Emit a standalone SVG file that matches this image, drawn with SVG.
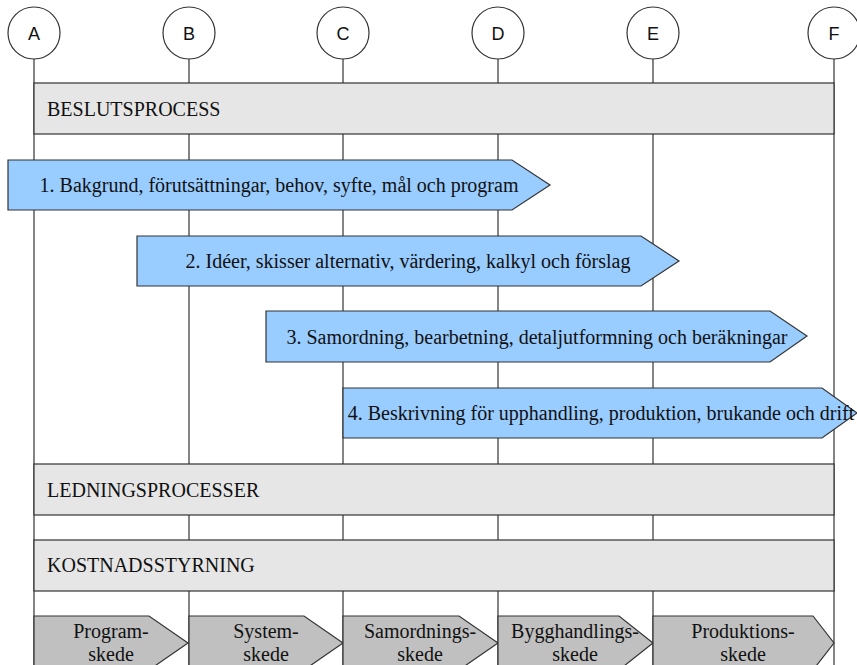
<svg xmlns="http://www.w3.org/2000/svg" width="857" height="665" viewBox="0 0 857 665">
  <defs>
    <style>
      .axis { stroke: #333; stroke-width: 1.2; fill: none; }
      .head { fill: #fff; stroke: #333; stroke-width: 1.2; }
      .head-label { font-family: "Liberation Sans", Arial, sans-serif; font-size: 18px; fill: #111; text-anchor: middle; }
      .band { fill: #e6e6e6; stroke: #333; stroke-width: 1.2; }
      .band-label { font-family: "Liberation Serif", "Times New Roman", serif; font-size: 20px; fill: #111; }
      .step { fill: #99ccff; stroke: #333; stroke-width: 1.2; }
      .phase { fill: #c0c0c0; stroke: #333; stroke-width: 1.2; }
      .label { font-family: "Liberation Serif", "Times New Roman", serif; font-size: 20px; fill: #111; text-anchor: middle; }
    </style>
  </defs>

  <!-- timeline axes -->
  <g id="connectors">
    <line class="axis" x1="34" y1="59" x2="34" y2="665"/>
    <line class="axis" x1="189" y1="59" x2="189" y2="665"/>
    <line class="axis" x1="343" y1="59" x2="343" y2="665"/>
    <line class="axis" x1="498" y1="59" x2="498" y2="665"/>
    <line class="axis" x1="653" y1="59" x2="653" y2="665"/>
    <line class="axis" x1="834" y1="59" x2="834" y2="665"/>
  </g>

  <!-- milestone heads -->
  <g id="head-A"><circle class="head" cx="34" cy="33" r="26"/><text class="head-label" x="34" y="40">A</text></g>
  <g id="head-B"><circle class="head" cx="189" cy="33" r="26"/><text class="head-label" x="189" y="40">B</text></g>
  <g id="head-C"><circle class="head" cx="343" cy="33" r="26"/><text class="head-label" x="343" y="40">C</text></g>
  <g id="head-D"><circle class="head" cx="498" cy="33" r="26"/><text class="head-label" x="498" y="40">D</text></g>
  <g id="head-E"><circle class="head" cx="653" cy="33" r="26"/><text class="head-label" x="653" y="40">E</text></g>
  <g id="head-F"><circle class="head" cx="834" cy="33" r="26"/><text class="head-label" x="834" y="40">F</text></g>

  <!-- process bands -->
  <g id="band-beslut">
    <rect class="band" x="34" y="83" width="800" height="51"/>
    <text class="band-label" x="47" y="116">BESLUTSPROCESS</text>
  </g>

  <!-- steps -->
  <g id="step-1">
    <polygon class="step" points="8,160 512,160 550,185 512,210 8,210"/>
    <text class="label" x="279" y="192">1. Bakgrund, förutsättningar, behov, syfte, mål och program</text>
  </g>
  <g id="step-2">
    <polygon class="step" points="137,236 641,236 679,261 641,286 137,286"/>
    <text class="label" x="408" y="268">2. Idéer, skisser alternativ, värdering, kalkyl och förslag</text>
  </g>
  <g id="step-3">
    <polygon class="step" points="266,311 770,311 807,336 770,362 266,362"/>
    <text class="label" x="537" y="344">3. Samordning, bearbetning, detaljutformning och beräkningar</text>
  </g>
  <g id="step-4">
    <polygon class="step" points="343,388 822,388 857,413 822,438 343,438"/>
    <text class="label" x="601" y="420">4. Beskrivning för upphandling, produktion, brukande och drift</text>
  </g>

  <g id="band-ledning">
    <rect class="band" x="34" y="464" width="800" height="51"/>
    <text class="band-label" x="47" y="497">LEDNINGSPROCESSER</text>
  </g>
  <g id="band-kostnad">
    <rect class="band" x="34" y="540" width="800" height="51"/>
    <text class="band-label" x="47" y="572">KOSTNADSSTYRNING</text>
  </g>

  <!-- phases -->
  <g id="phase-program">
    <polygon class="phase" points="34,616 149,616 188,643 149,670 34,670"/>
    <text class="label" x="111" y="638">Program-</text>
    <text class="label" x="111" y="661">skede</text>
  </g>
  <g id="phase-system">
    <polygon class="phase" points="189,616 304,616 343,643 304,670 189,670"/>
    <text class="label" x="266" y="638">System-</text>
    <text class="label" x="266" y="661">skede</text>
  </g>
  <g id="phase-samordning">
    <polygon class="phase" points="343,616 459,616 498,643 459,670 343,670"/>
    <text class="label" x="420" y="638">Samordnings-</text>
    <text class="label" x="420" y="661">skede</text>
  </g>
  <g id="phase-bygghandling">
    <polygon class="phase" points="498,616 619,616 653,643 619,670 498,670"/>
    <text class="label" x="575" y="638">Bygghandlings-</text>
    <text class="label" x="575" y="661">skede</text>
  </g>
  <g id="phase-produktion">
    <polygon class="phase" points="653,616 813,616 834,643 813,670 653,670"/>
    <text class="label" x="743" y="638">Produktions-</text>
    <text class="label" x="743" y="661">skede</text>
  </g>
</svg>
